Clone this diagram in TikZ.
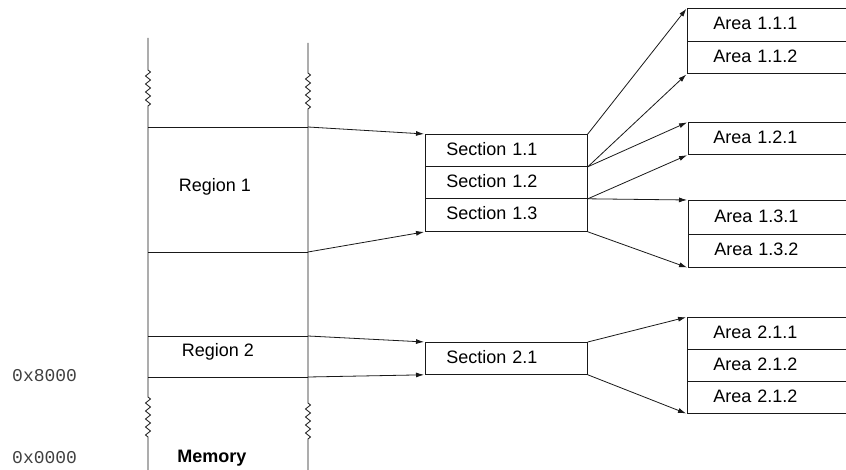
\documentclass[tikz,border=0pt]{standalone}
\usepackage{fontspec}
\setmainfont{Liberation Sans}
\setmonofont{Liberation Mono}
\usetikzlibrary{arrows.meta,decorations.pathmorphing}
\tikzset{
  ln/.style={draw=black!90, line width=0.8pt},
  arr/.style={ln, -{Latex[length=8pt,width=5pt]}, shorten >=1pt},
  secbox/.style={ln, rectangle, anchor=north west, minimum width=162pt, text width=120pt, inner xsep=21pt, inner ysep=0pt, text depth=3pt, align=left, font=\fontsize{18}{20}\selectfont},
  areabox/.style={ln, rectangle, anchor=north west, minimum width=173pt, text width=121pt, inner xsep=26pt, inner ysep=0pt, text depth=3pt, align=left, font=\fontsize{18}{20}\selectfont},
  lbl/.style={font=\fontsize{18}{20}\selectfont, inner sep=0pt},
  addr/.style={font=\ttfamily\fontsize{18}{20}\selectfont, text=black!75, inner sep=0pt, anchor=west},
  zz/.style={decoration={zigzag,segment length=8pt,amplitude=2.5pt}}
}
\begin{document}
\begin{tikzpicture}[x=1pt,y=-1pt]
\clip (0,0) rectangle (846,470);
\fill[white] (0,0) rectangle (846,470);
% memory column
\draw[ln] (148,38) -- (148,70) decorate[zz]{-- (148,107)} -- (148,397) decorate[zz]{-- (148,437)} -- (148,470);
\draw[ln] (308,43) -- (308,73) decorate[zz]{-- (308,112)} -- (308,403) decorate[zz]{-- (308,440)} -- (308,470);
\coordinate (m1) at (308,127);
\coordinate (m2) at (308,252);
\coordinate (m3) at (308,336);
\coordinate (m4) at (308,377);
\draw[ln] (148,127) -- (m1);
\draw[ln] (148,252) -- (m2);
\draw[ln] (148,336) -- (m3);
\draw[ln] (148,377) -- (m4);
\node[lbl] (r1) at (215,187) {Region 1};
\node[lbl] (r2) at (218,352) {Region 2};
\node[lbl, font=\bfseries\fontsize{18}{20}\selectfont] (mem) at (212,458) {Memory};
\node[addr] (a8) at (12,376) {0x8000};
\node[addr] (a0) at (12,458) {0x0000};
% sections
\node[secbox, minimum height=32pt] (s11) at (425,134) {Section 1.1};
\node[secbox, minimum height=32pt] (s12) at (425,166) {Section 1.2};
\node[secbox, minimum height=33pt] (s13) at (425,198) {Section 1.3};
\node[secbox, minimum height=32pt] (s21) at (425,342) {Section 2.1};
% areas
\node[areabox, minimum height=33pt] (a111) at (687,8) {Area 1.1.1};
\node[areabox, minimum height=32pt] (a112) at (687,41) {Area 1.1.2};
\node[areabox, minimum height=32pt, text width=123pt, inner xsep=21pt] (a121) at (688,122) {Area 1.2.1};
\node[areabox, minimum height=34pt] (a131) at (688,200) {Area 1.3.1};
\node[areabox, minimum height=33pt] (a132) at (688,234) {Area 1.3.2};
\node[areabox, minimum height=32pt] (a211) at (687,317) {Area 2.1.1};
\node[areabox, minimum height=32pt] (a212) at (687,349) {Area 2.1.2};
\node[areabox, minimum height=32pt] (a213) at (687,381) {Area 2.1.2};
% arrows memory -> sections
\draw[arr] (m1) -- (s11.north west);
\draw[arr] (m2) -- (s13.south west);
\draw[arr] (m3) -- (s21.north west);
\draw[arr] (m4) -- (s21.south west);
% arrows sections -> areas
\draw[arr] (s11.north east) -- (a111.north west);
\draw[arr] (s11.south east) -- (a112.south west);
\draw[arr] (s11.south east) -- (a121.north west);
\draw[arr] (s12.south east) -- (a121.south west);
\draw[arr] (s12.south east) -- (a131.north west);
\draw[arr] (s13.south east) -- (a132.south west);
\draw[arr] (s21.north east) -- (a211.north west);
\draw[arr] (s21.south east) -- (a213.south west);
\end{tikzpicture}
\end{document}
